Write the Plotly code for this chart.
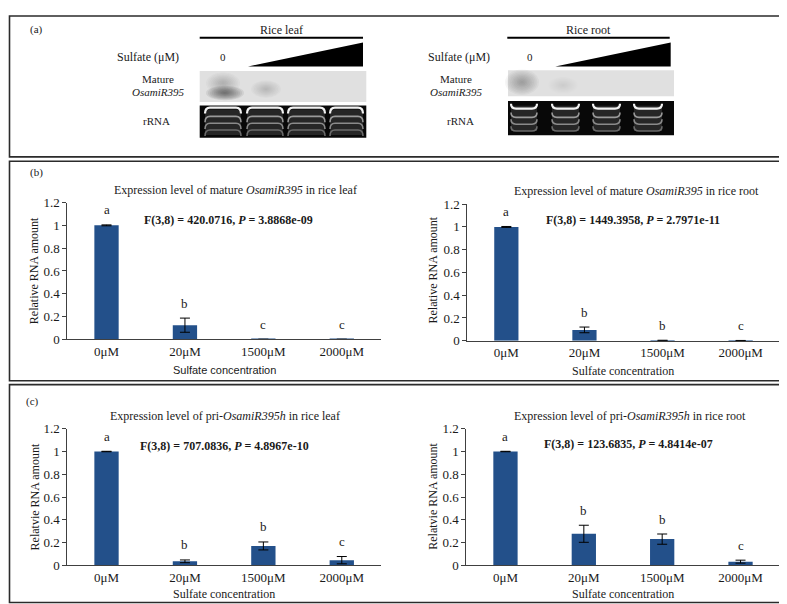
import plotly.graph_objects as go

W, H = 787, 604

# ---------------- data ----------------
categories = ["0μM", "20μM", "1500μM", "2000μM"]

mature_leaf = [1.0, 0.125, 0.001, 0.001]
mature_leaf_err = [0.004, 0.062, 0.0, 0.0]
mature_leaf_letters = ["a", "b", "c", "c"]

mature_root = [1.0, 0.095, 0.003, 0.002]
mature_root_err = [0.004, 0.025, 0.0, 0.0]
mature_root_letters = ["a", "b", "b", "c"]

pri_leaf = [1.0, 0.035, 0.17, 0.045]
pri_leaf_err = [0.002, 0.012, 0.035, 0.032]
pri_leaf_letters = ["a", "b", "b", "c"]

pri_root = [1.0, 0.277, 0.23, 0.032]
pri_root_err = [0.002, 0.075, 0.045, 0.013]
pri_root_letters = ["a", "b", "b", "c"]

y_ticks = [0, 0.2, 0.4, 0.6, 0.8, 1.0, 1.2]

titles = [
    "Expression level of mature <i>OsamiR395</i> in rice leaf",
    "Expression level of mature <i>OsamiR395</i> in rice root",
    "Expression level of pri-<i>OsamiR395h</i> in rice leaf",
    "Expression level of pri-<i>OsamiR395h</i> in rice root",
]
stats = [
    "<b>F(3,8) = 420.0716, <i>P</i> = 3.8868e-09</b>",
    "<b>F(3,8) = 1449.3958, <i>P</i> = 2.7971e-11</b>",
    "<b>F(3,8) = 707.0836, <i>P</i> = 4.8967e-10</b>",
    "<b>F(3,8) = 123.6835, <i>P</i> = 4.8414e-07</b>",
]
y_titles = ["Relative RNA amount", "Relative RNA amount",
            "Relatvie RNA amount", "Relatvie RNA amount"]
x_title = "Sulfate concentration"

# ---------------- helpers ----------------
SERIF = "Liberation Serif, Times New Roman, serif"
INK = "#1a1a1a"
BAR = "#23508A"


def px(x):
    return x / W


def py(y):
    return 1 - y / H


def pt(x, y):
    return f"{px(x):.5f},{py(y):.5f}"


fig = go.Figure()
shapes = []
annotations = []


def ann(text, x, y, size=12, font=SERIF, angle=0, color=INK, **kw):
    d = dict(text=text, x=px(x), y=py(y), xref="paper", yref="paper",
             showarrow=False, textangle=angle,
             font=dict(family=font, size=size, color=color),
             xanchor="center", yanchor="middle")
    d.update(kw)
    annotations.append(d)


# ---------------- bar charts ----------------
# (xaxis, yaxis, left px, right px, bottom px, top px)
panels = [
    ("x", "y", 59.3, 373.0, 332.7, 192.3),
    ("x2", "y2", 459.3, 771.7, 334.0, 194.0),
    ("x3", "y3", 59.3, 373.0, 564.3, 424.3),
    ("x4", "y4", 458.3, 771.7, 564.3, 424.3),
]
series = [
    (mature_leaf, mature_leaf_err, mature_leaf_letters),
    (mature_root, mature_root_err, mature_root_letters),
    (pri_leaf, pri_leaf_err, pri_leaf_letters),
    (pri_root, pri_root_err, pri_root_letters),
]

layout_axes = {}
for i, ((xa, ya, l, r, b, t), (vals, errs, letters)) in enumerate(zip(panels, series)):
    fig.add_trace(go.Bar(
        x=categories, y=vals, xaxis=xa, yaxis=ya,
        marker=dict(color=BAR, line=dict(width=0)),
        error_y=dict(type="data", array=errs, visible=True, color="#000000",
                     thickness=1, width=5),
        showlegend=False, hoverinfo="skip",
    ))
    xkey = "xaxis" if xa == "x" else "xaxis" + xa[1:]
    ykey = "yaxis" if ya == "y" else "yaxis" + ya[1:]
    layout_axes[xkey] = dict(
        domain=[px(l), px(r)], anchor=ya, showline=True, linecolor="#404040",
        linewidth=1, ticks="", showgrid=False, zeroline=False,
        tickfont=dict(family=SERIF, size=13, color=INK), fixedrange=True,
    )
    layout_axes[ykey] = dict(
        domain=[py(b), py(t)], anchor=xa, range=[0, 1.2], tickvals=y_ticks,
        ticktext=[f"{v:g}" for v in y_ticks],
        showline=True, linecolor="#404040", linewidth=1, ticks="outside",
        ticklen=4, tickcolor="#404040", showgrid=False, zeroline=False,
        tickfont=dict(family=SERIF, size=13, color=INK), fixedrange=True,
    )
    # significance letters
    for c, v, e, lt in zip(categories, vals, errs, letters):
        annotations.append(dict(text=lt, x=c, y=v + e, xref=xa, yref=ya,
                                showarrow=False, yanchor="middle", yshift=15,
                                font=dict(family=SERIF, size=13, color=INK)))

# titles, stats, axis titles
ann(titles[0], 227, 179, 12)
ann(titles[1], 628, 180, 12)
ann(titles[2], 217, 411.7, 12)
ann(titles[3], 621.7, 410.7, 12)
ann(stats[0], 220, 210, 12)
ann(stats[1], 625, 210.7, 12)
ann(stats[2], 216, 441.7, 12)
ann(stats[3], 620, 440, 12)
ann(y_titles[0], 26.7, 262, 12, angle=-90)
ann(y_titles[1], 425, 262, 12, angle=-90)
ann(y_titles[2], 26.7, 494, 12, angle=-90)
ann(y_titles[3], 425, 494, 12, angle=-90)
ann(x_title, 216, 364, 11, font="Liberation Sans, Arial, sans-serif")
ann(x_title, 615, 365, 12)
ann(x_title, 216, 594, 12)
ann(x_title, 615, 594, 12)
ann("(b)", 28.3, 161, 11)
ann("(c)", 24, 396, 11)
ann("(a)", 28, 15, 11)

# ---------------- panel borders ----------------
for (x0, y0, x1, y1) in [(1.5, 1, 785, 145.5), (1.5, 150, 785, 375), (1.5, 379, 785, 602.5)]:
    shapes.append(dict(type="rect", xref="paper", yref="paper",
                       x0=px(x0), x1=px(x1), y0=py(y1), y1=py(y0),
                       line=dict(color="#2b2b2b", width=1.6), fillcolor="rgba(0,0,0,0)"))

# ---------------- panel (a): blot illustrations ----------------
gels = [
    dict(name="Rice leaf", cx=273, bar=(191.7, 355), tri=(240, 355), zero=215,
         lab=140, lab2=150, rlab=148, blot=(191.7, 358.3, 57.3, 89.3),
         rrna=(191.7, 358.3, 92.7, 126), lanes=[(197, 233), (239, 275), (280, 317), (322, 355)],
         band_top=95, cup=False,
         blobs=[(217, 80, 38, 15, 0.6), (215, 70, 34, 22, 0.2), (258, 76, 30, 18, 0.18)]),
    dict(name="Rice root", cx=580, bar=(499.3, 661.7), tri=(547.3, 662.7), zero=522.3,
         lab=451, lab2=448, rlab=452, blot=(500, 666, 56.7, 83.3),
         rrna=(500, 666, 88.3, 123.3), lanes=[(503, 529), (544, 571), (585, 612), (626, 654)],
         band_top=91, cup=True,
         blobs=[(514, 69, 34, 26, 0.32), (555, 72, 30, 18, 0.06)]),
]

for g in gels:
    ann(g["name"], g["cx"], 15, 12)
    x0, x1 = g["bar"]
    shapes.append(dict(type="line", xref="paper", yref="paper", x0=px(x0), x1=px(x1),
                       y0=py(23.3), y1=py(23.3), line=dict(color="black", width=2)))
    t0, t1 = g["tri"]
    shapes.append(dict(type="path", xref="paper", yref="paper",
                       path=f"M{pt(t0, 52.7)} L{pt(t1, 52.7)} L{pt(t1, 28.3)} Z",
                       fillcolor="black", line=dict(width=0)))
    ann("Sulfate (μM)", g["lab"], 42.7, 12)
    ann("0", g["zero"], 42.7, 11)
    ann("Mature", g["lab2"], 66, 11)
    ann("<i>OsamiR395</i>", g["lab2"], 79, 11)
    ann("rRNA", g["rlab"], 109, 11)

    bx0, bx1, by0, by1 = g["blot"]
    shapes.append(dict(type="rect", xref="paper", yref="paper", x0=px(bx0), x1=px(bx1),
                       y0=py(by1), y1=py(by0), fillcolor="#e0e0e0", line=dict(width=0)))
    nlay = 10
    for (cx, cy, w, h, a) in g["blobs"]:
        for k in range(nlay):
            s = 1 - k / nlay
            shapes.append(dict(type="circle", xref="paper", yref="paper",
                               x0=px(cx - w / 2 * s), x1=px(cx + w / 2 * s),
                               y0=py(cy + h / 2 * s), y1=py(cy - h / 2 * s),
                               fillcolor=f"rgba(60,60,60,{a * 0.15:.3f})", line=dict(width=0)))

    rx0, rx1, ry0, ry1 = g["rrna"]
    shapes.append(dict(type="rect", xref="paper", yref="paper", x0=px(rx0), x1=px(rx1),
                       y0=py(ry1), y1=py(ry0), fillcolor="#080808", line=dict(width=0)))
    yt = g["band_top"]
    for (l0, l1) in g["lanes"]:
        shapes.append(dict(type="rect", xref="paper", yref="paper", x0=px(l0), x1=px(l1),
                           y0=py(yt + 28), y1=py(yt + 2), fillcolor="#262626", line=dict(width=0)))
        for j, (dy, col, wd) in enumerate([(0, "#f2f2f2", 2.2), (9, "#9a9a9a", 1.6),
                                            (16, "#8a8a8a", 1.6), (23, "#6a6a6a", 1.6)]):
            y = yt + dy
            if g["cup"]:
                path = (f"M{pt(l0, y)} Q{pt(l0, y + 5)} {pt(l0 + 5, y + 5)} "
                        f"L{pt(l1 - 5, y + 5)} Q{pt(l1, y + 5)} {pt(l1, y)}")
            else:
                path = (f"M{pt(l0, y + 6)} Q{pt(l0, y)} {pt(l0 + 5, y)} "
                        f"L{pt(l1 - 5, y)} Q{pt(l1, y)} {pt(l1, y + 6)}")
            shapes.append(dict(type="path", xref="paper", yref="paper", path=path,
                               line=dict(color=col, width=wd)))

fig.update_layout(
    width=W, height=H, margin=dict(l=0, r=0, t=0, b=0),
    paper_bgcolor="white", plot_bgcolor="white",
    bargap=0.69, shapes=shapes, annotations=annotations,
    **layout_axes,
)

fig.write_html("out.html", config={"displayModeBar": False})
